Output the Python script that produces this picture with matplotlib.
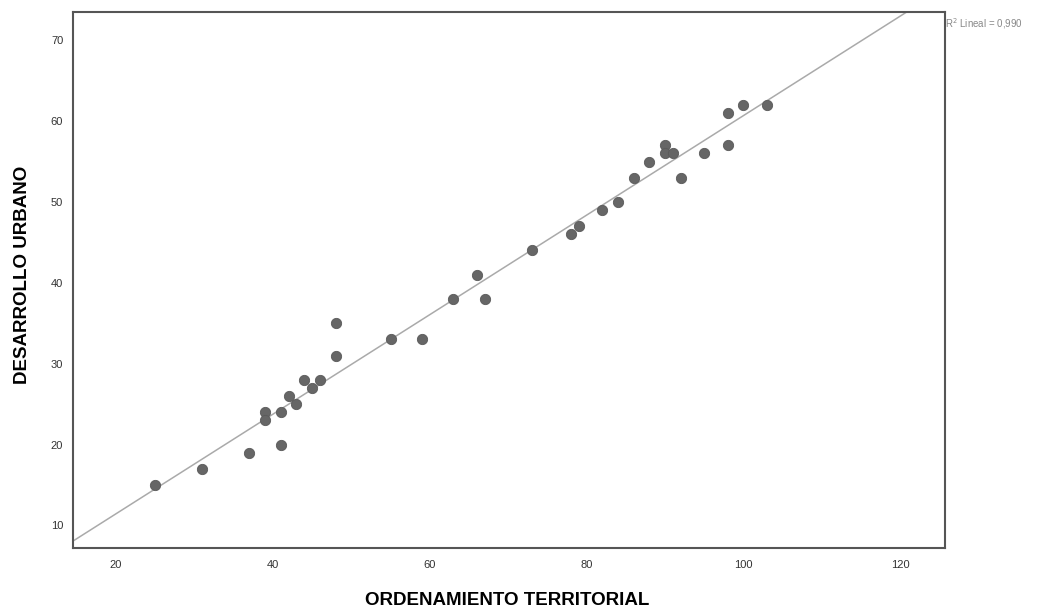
import numpy as np
import matplotlib
matplotlib.use('Agg')
import matplotlib.pyplot as plt

plt.rcParams['font.family'] = ['Liberation Sans', 'DejaVu Sans']

# ORDENAMIENTO TERRITORIAL vs DESARROLLO URBANO
ordenamiento = [25, 31, 37, 41, 39, 39, 41, 42, 43, 44, 45, 46, 48, 48, 55, 59,
                63, 66, 67, 73, 78, 79, 82, 84, 86, 88, 90, 90, 91, 92, 95, 98,
                98, 100, 103]
desarrollo = [15, 17, 19, 20, 24, 23, 24, 26, 25, 28, 27, 28, 31, 35, 33, 33,
              38, 41, 38, 44, 46, 47, 49, 50, 53, 55, 57, 56, 56, 53, 56, 57,
              61, 62, 62]
xticks = [20, 40, 60, 80, 100, 120]
yticks = [10, 20, 30, 40, 50, 60, 70]
r2_label = 'R$^2$ Lineal = 0,990'

x = np.array(ordenamiento, dtype=float)
y = np.array(desarrollo, dtype=float)
slope, intercept = np.polyfit(x, y, 1)

fig = plt.figure(figsize=(10.56, 6.12), dpi=100)
ax = fig.add_axes([0.0691, 0.1046, 0.8258, 0.8758])

xlim = (14.5, 125.7)
ylim = (7.2, 73.5)
xs = np.array(xlim)
ax.plot(xs, slope * xs + intercept, color='#aaaaaa', lw=1.1, zorder=1)
ax.scatter(x, y, s=55, color='#666666', edgecolors='#5a5a5a', linewidths=0.6, zorder=2)

ax.set_xlim(*xlim)
ax.set_ylim(*ylim)
ax.set_xticks(xticks)
ax.set_yticks(yticks)
ax.tick_params(length=0, labelsize=8, labelcolor='#333333')
ax.tick_params(axis='x', pad=9)
ax.tick_params(axis='y', pad=7)

for sp in ax.spines.values():
    sp.set_color('#555555')
    sp.set_linewidth(1.5)

fig.text(0.480, 0.018, 'ORDENAMIENTO TERRITORIAL', fontsize=13.5, fontweight='bold',
         ha='center', va='center')
fig.text(0.021, 0.551, 'DESARROLLO URBANO', fontsize=13.5, fontweight='bold',
         ha='center', va='center', rotation=90)

fig.text(0.895, 0.962, r2_label, fontsize=7, color='#888888', ha='left', va='center')

fig.savefig('out.png', dpi=100)
